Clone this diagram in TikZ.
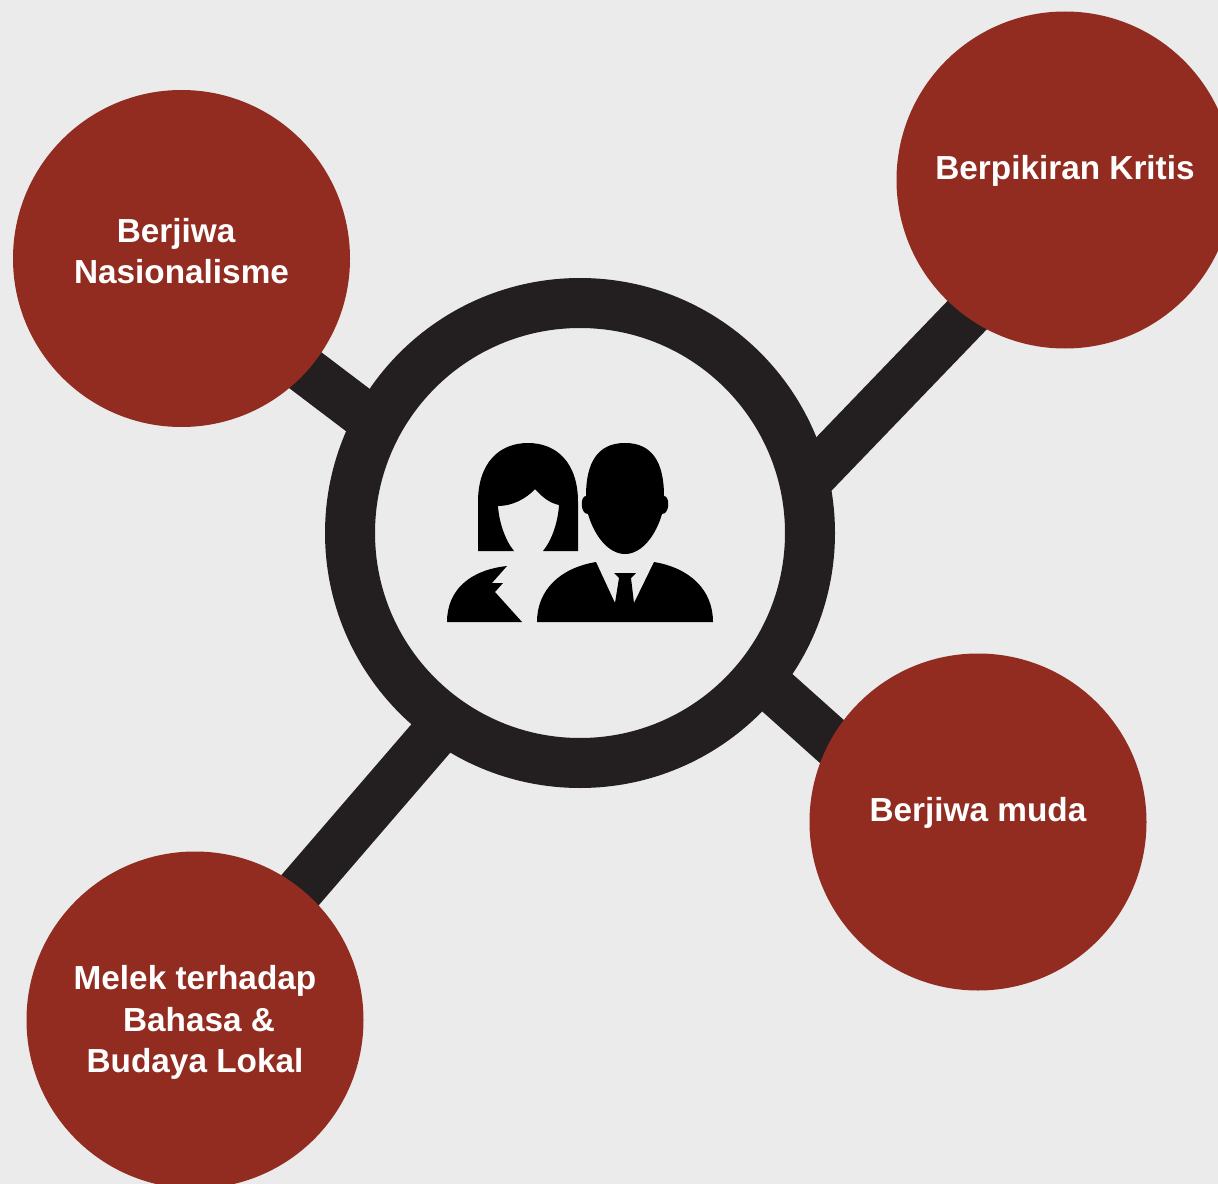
\documentclass[tikz,border=0pt]{standalone}
\usepackage{fontspec}
\setmainfont{Liberation Sans}
\definecolor{bgGrey}{RGB}{235,235,235}
\definecolor{ringDark}{RGB}{35,31,32}
\definecolor{ballRed}{RGB}{146,44,32}
\pgfdeclarelayer{linklayer}
\pgfsetlayers{linklayer,main}
\tikzset{
  ballnode/.style={circle,fill=ballRed,minimum size=252.75pt,inner sep=0pt},
  balltext/.style={text=white,font=\fontsize{25}{31}\selectfont\bfseries,align=center,inner sep=0pt},
  ringnode/.style={circle,draw=ringDark,line width=37.5pt,minimum size=345pt,inner sep=0pt},
  linkline/.style={ringDark,line width=36pt,shorten >=-12pt,shorten <=-12pt}
}
\begin{document}
\begin{tikzpicture}[x=0.75pt,y=0.75pt,yscale=-1,xscale=1]
\useasboundingbox (0,0) rectangle (1218,1184);

% hub and balls
\node[ringnode] (ring) at (580,533) {};
\node[ballnode] (nasional) at (181.5,258.5) {};
\node[ballnode] (kritis) at (1065,180) {};
\node[ballnode] (muda) at (978,822) {};
\node[ballnode] (lokal) at (195,1020) {};

% links
\begin{pgfonlayer}{linklayer}
\fill[bgGrey] (0,0) rectangle (1218,1184);
\draw[linkline] (nasional.-42) -- (ring.151);
\draw[linkline] (kritis.234) -- (ring.16);
\draw[linkline] (muda.151) -- (ring.-39);
\draw[linkline] (lokal.51) -- (ring.234);
\end{pgfonlayer}

% labels
\node[balltext] (txtA) at (181.5,251) {\hspace*{-8pt}Berjiwa\\Nasionalisme};
\node[balltext] (txtB) at (1065,170.5) {Berpikiran Kritis};
\node[balltext] (txtC) at (978,812.5) {Berjiwa muda};
\node[balltext] (txtD) at (195,1022.5) {Melek terhadap\\\hspace*{6pt}Bahasa \&\\Budaya Lokal};

% woman
\fill[black] (478,551) -- (478,502) .. controls (478,462) and (500,443) .. (528,443) .. controls (556,443) and (578,462) .. (578,502) -- (578,551) -- (543,551) .. controls (552,540) and (558,522) .. (559,505) .. controls (550,503) and (543,498) .. (535,489) .. controls (526,499) and (512,506) .. (498,506) .. controls (499,522) and (505,540) .. (514,551) -- cycle;
\fill[black] (447,622) .. controls (447,590) and (470,570) .. (507,566) -- (492,583) -- (503,583) -- (495,592) -- (522,622) -- cycle;
% man
\fill[black] (625,443) .. controls (652,443) and (664,462) .. (664,496) .. controls (670,496) and (670,514) .. (662,514) .. controls (656,535) and (642,554) .. (625,554) .. controls (608,554) and (594,535) .. (588,514) .. controls (580,514) and (580,496) .. (586,496) .. controls (586,462) and (598,443) .. (625,443) -- cycle;
\fill[black] (537,622) .. controls (537,590) and (560,568) .. (596,562) -- (615,603) -- (619,578) -- (614,573) -- (636,573) -- (631,578) -- (634,603) -- (654,562) .. controls (690,568) and (713,590) .. (713,622) -- cycle;
\end{tikzpicture}
\end{document}
